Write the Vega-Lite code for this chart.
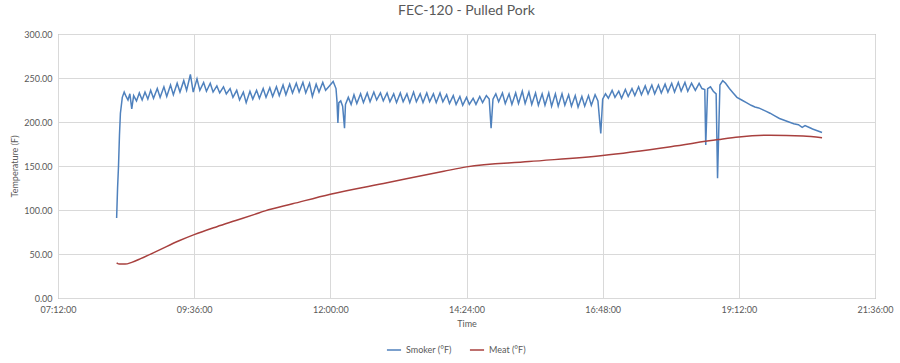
{
  "$schema": "https://vega.github.io/schema/vega-lite/v6.json",
  "autosize": {"type": "none"},
  "padding": {"left": 58, "top": 34, "right": 25, "bottom": 65},
  "width": 817,
  "height": 264,
  "title": {"text": "FEC-120 - Pulled Pork", "fontSize": 14, "fontWeight": "normal", "color": "#595959", "offset": 12, "anchor": "middle"},
  "datasets": {
    "smoker": [
      {"t":494,"v":91},{"t":495,"v":125},{"t":496,"v":150},{"t":497,"v":185},{"t":498,"v":210},{"t":500,"v":228},{"t":502,"v":234},
      {"t":504,"v":229},{"t":506,"v":225},{"t":508,"v":232},{"t":510,"v":215},{"t":512,"v":230},{"t":515,"v":224},{"t":518,"v":233},
      {"t":521,"v":225},{"t":524,"v":234},{"t":527,"v":226},{"t":530,"v":236},{"t":533,"v":227},{"t":537,"v":238},{"t":540,"v":228},
      {"t":544,"v":240},{"t":547,"v":229},{"t":551,"v":242},{"t":554,"v":231},{"t":558,"v":244},{"t":561,"v":234},{"t":565,"v":247},
      {"t":568,"v":236},{"t":572,"v":254},{"t":575,"v":234},{"t":579,"v":249},{"t":582,"v":236},{"t":586,"v":245},{"t":589,"v":235},
      {"t":593,"v":244},{"t":596,"v":234},{"t":600,"v":241},{"t":603,"v":233},{"t":607,"v":240},{"t":610,"v":232},{"t":614,"v":238},
      {"t":617,"v":228},{"t":621,"v":236},{"t":624,"v":225},{"t":628,"v":234},{"t":631,"v":222},{"t":635,"v":235},{"t":638,"v":226},
      {"t":642,"v":236},{"t":645,"v":227},{"t":649,"v":238},{"t":652,"v":228},{"t":656,"v":239},{"t":659,"v":229},{"t":663,"v":240},
      {"t":666,"v":230},{"t":670,"v":242},{"t":673,"v":231},{"t":677,"v":243},{"t":680,"v":233},{"t":684,"v":244},{"t":687,"v":234},
      {"t":691,"v":245},{"t":694,"v":233},{"t":698,"v":244},{"t":701,"v":229},{"t":705,"v":243},{"t":708,"v":234},{"t":712,"v":245},
      {"t":715,"v":236},{"t":719,"v":241},{"t":723,"v":246},{"t":726,"v":238},{"t":727,"v":224},{"t":728,"v":199},{"t":729,"v":222},
      {"t":731,"v":224},{"t":733,"v":218},{"t":735,"v":193},{"t":736,"v":220},{"t":739,"v":228},{"t":742,"v":220},{"t":745,"v":231},
      {"t":748,"v":221},{"t":752,"v":232},{"t":755,"v":222},{"t":759,"v":233},{"t":762,"v":223},{"t":766,"v":234},{"t":769,"v":225},
      {"t":773,"v":233},{"t":776,"v":224},{"t":780,"v":233},{"t":783,"v":223},{"t":787,"v":232},{"t":790,"v":222},{"t":794,"v":233},
      {"t":797,"v":223},{"t":801,"v":232},{"t":804,"v":222},{"t":808,"v":234},{"t":811,"v":223},{"t":815,"v":232},{"t":818,"v":222},
      {"t":822,"v":233},{"t":825,"v":223},{"t":829,"v":232},{"t":832,"v":222},{"t":836,"v":233},{"t":839,"v":223},{"t":843,"v":231},
      {"t":846,"v":221},{"t":850,"v":230},{"t":853,"v":220},{"t":857,"v":229},{"t":860,"v":219},{"t":864,"v":228},{"t":867,"v":220},
      {"t":871,"v":227},{"t":874,"v":220},{"t":878,"v":229},{"t":881,"v":222},{"t":885,"v":230},{"t":888,"v":226},{"t":890,"v":193},
      {"t":892,"v":226},{"t":895,"v":232},{"t":898,"v":223},{"t":902,"v":233},{"t":905,"v":221},{"t":909,"v":232},{"t":912,"v":220},
      {"t":916,"v":233},{"t":919,"v":221},{"t":923,"v":235},{"t":926,"v":221},{"t":930,"v":234},{"t":933,"v":220},{"t":937,"v":233},
      {"t":940,"v":219},{"t":944,"v":232},{"t":947,"v":219},{"t":951,"v":233},{"t":954,"v":218},{"t":958,"v":232},{"t":961,"v":218},
      {"t":965,"v":232},{"t":968,"v":219},{"t":972,"v":231},{"t":975,"v":218},{"t":979,"v":230},{"t":982,"v":217},{"t":986,"v":229},
      {"t":989,"v":218},{"t":993,"v":230},{"t":996,"v":219},{"t":1000,"v":231},{"t":1003,"v":224},{"t":1006,"v":187},{"t":1008,"v":226},
      {"t":1011,"v":232},{"t":1014,"v":227},{"t":1018,"v":236},{"t":1021,"v":228},{"t":1025,"v":235},{"t":1028,"v":227},{"t":1032,"v":237},
      {"t":1035,"v":229},{"t":1039,"v":238},{"t":1042,"v":230},{"t":1046,"v":240},{"t":1049,"v":231},{"t":1053,"v":241},{"t":1056,"v":232},
      {"t":1060,"v":242},{"t":1063,"v":232},{"t":1067,"v":242},{"t":1070,"v":233},{"t":1074,"v":243},{"t":1077,"v":234},{"t":1081,"v":244},
      {"t":1084,"v":234},{"t":1088,"v":245},{"t":1091,"v":235},{"t":1095,"v":245},{"t":1098,"v":235},{"t":1102,"v":244},{"t":1106,"v":236},
      {"t":1110,"v":244},{"t":1113,"v":238},{"t":1116,"v":237},{"t":1117,"v":174},{"t":1119,"v":238},{"t":1122,"v":240},{"t":1125,"v":235},
      {"t":1128,"v":232},{"t":1129.5,"v":136},{"t":1132,"v":242},{"t":1135,"v":247},{"t":1138,"v":244},{"t":1142,"v":238},{"t":1146,"v":233},
      {"t":1150,"v":228},{"t":1155,"v":225},{"t":1160,"v":222},{"t":1165,"v":219},{"t":1169,"v":217},{"t":1173,"v":216},{"t":1177,"v":214},
      {"t":1181,"v":212},{"t":1185,"v":210},{"t":1190,"v":207},{"t":1195,"v":204},{"t":1200,"v":202},{"t":1205,"v":200},{"t":1210,"v":198},
      {"t":1215,"v":197},{"t":1219,"v":194},{"t":1222,"v":196},{"t":1226,"v":194},{"t":1230,"v":192},{"t":1235,"v":190},{"t":1240,"v":188}
    ],
    "meat": [
      {"t":494,"v":40},{"t":497,"v":38.5},{"t":503,"v":38.5},{"t":510,"v":40.5},{"t":520,"v":45},{"t":540,"v":55},{"t":560,"v":65},
      {"t":576,"v":72},{"t":600,"v":81},{"t":620,"v":88},{"t":640,"v":95},{"t":651,"v":99},{"t":680,"v":107},{"t":720,"v":118},
      {"t":780,"v":131},{"t":840,"v":144},{"t":864,"v":149},{"t":930,"v":155},{"t":1008,"v":162},{"t":1080,"v":172},{"t":1130,"v":180},
      {"t":1152,"v":183},{"t":1185,"v":185},{"t":1220,"v":184},{"t":1240,"v":182}
    ]
  },
  "encoding": {
    "x": {"field": "t", "type": "quantitative", "title": "Time",
      "scale": {"domain": [432, 1296], "nice": false, "zero": false},
      "axis": {"values": [432, 576, 720, 864, 1008, 1152, 1296], "labelExpr": "utcFormat(datum.value * 60000, '%H:%M:%S')", "labelPadding": 7, "titlePadding": 5, "labelFlush": false}},
    "y": {"field": "v", "type": "quantitative", "title": "Temperature (F)",
      "scale": {"domain": [0, 300], "nice": false},
      "axis": {"values": [0, 50, 100, 150, 200, 250, 300], "format": ".2f", "labelPadding": 6, "titlePadding": 4}},
    "color": {"type": "nominal", "scale": {"domain": ["Smoker (°F)", "Meat (°F)"], "range": ["#4f81bd", "#a8403e"]},
      "legend": {"title": null, "orient": "none", "legendX": 328, "legendY": 308, "direction": "horizontal", "symbolType": "stroke", "symbolSize": 200, "symbolStrokeWidth": 1.5, "labelFontSize": 9, "labelColor": "#595959", "columnPadding": 14}}
  },
  "layer": [
    {"data": {"name": "smoker"}, "mark": {"type": "line", "strokeWidth": 1.5}, "encoding": {"color": {"datum": "Smoker (°F)"}}},
    {"data": {"name": "meat"}, "mark": {"type": "line", "strokeWidth": 1.5, "interpolate": "monotone"}, "encoding": {"color": {"datum": "Meat (°F)"}}}
  ],
  "config": {
    "font": "Lato",
    "axis": {"labelColor": "#595959", "titleColor": "#595959", "labelFontSize": 9, "titleFontSize": 9, "titleFontWeight": "normal", "gridColor": "#d9d9d9", "domain": false, "ticks": false},
    "view": {"stroke": "#8c8c8c"}
  }
}
